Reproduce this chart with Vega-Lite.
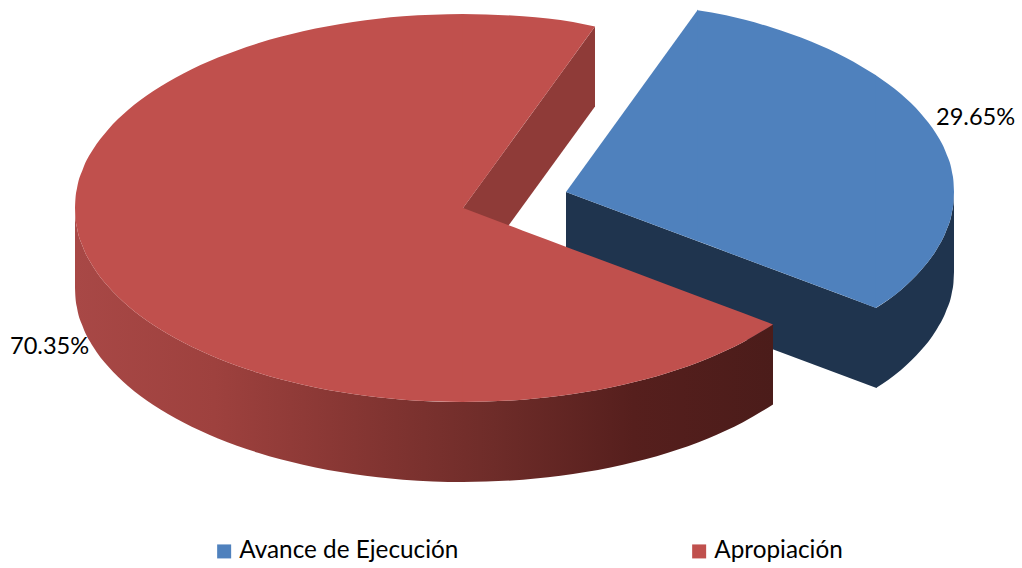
{
"$schema":"https://vega.github.io/schema/vega-lite/v6.json",
"width":1022,"height":568,"padding":0,"autosize":{"type":"none"},
"background":"white",
"config":{"view":{"stroke":null}},
"datasets":{
"blueSide":[{"part":"a","x":566,"y":192,"y2":272},{"part":"a","x":876.5,"y":308,"y2":388},{"part":"b","x":876,"y":308,"y2":388},{"part":"b","x":901,"y":289.9,"y2":369.9},{"part":"b","x":921,"y":270.3,"y2":350.3},{"part":"b","x":936,"y":250.4,"y2":330.4},{"part":"b","x":946,"y":231.2,"y2":311.2},{"part":"b","x":952,"y":211.7,"y2":291.7},{"part":"b","x":953.5,"y":201.9,"y2":281.9},{"part":"b","x":954,"y":192,"y2":272}],
"blueTop":[{"serie":"Avance de Ejecución","part":"a","x":566,"y":192,"y2":192},{"serie":"Avance de Ejecución","part":"a","x":698,"y":9.6,"y2":241.2},
{"serie":"Avance de Ejecución","part":"b","x":697.5,"y":10.3,"y2":241},{"serie":"Avance de Ejecución","part":"b","x":726,"y":15.3,"y2":251.7},{"serie":"Avance de Ejecución","part":"b","x":771,"y":27.3,"y2":268.5},{"serie":"Avance de Ejecución","part":"b","x":811,"y":41.6,"y2":283.4},{"serie":"Avance de Ejecución","part":"b","x":846,"y":57.7,"y2":296.4},{"serie":"Avance de Ejecución","part":"b","x":876,"y":75.3,"y2":308},
{"serie":"Avance de Ejecución","part":"c","x":875.5,"y":75,"y2":308},{"serie":"Avance de Ejecución","part":"c","x":901,"y":94.1,"y2":289.9},{"serie":"Avance de Ejecución","part":"c","x":921,"y":113.7,"y2":270.3},{"serie":"Avance de Ejecución","part":"c","x":936,"y":133.6,"y2":250.4},{"serie":"Avance de Ejecución","part":"c","x":946,"y":152.8,"y2":231.2},{"serie":"Avance de Ejecución","part":"c","x":952,"y":172.3,"y2":211.7},{"serie":"Avance de Ejecución","part":"c","x":953.5,"y":182.1,"y2":201.9},{"serie":"Avance de Ejecución","part":"c","x":954,"y":192,"y2":192}],
"redInner":[{"x":463,"y":208,"y2":288},{"x":595,"y":26.5,"y2":106.5}],
"redFront":[{"x":75,"y":208,"y2":288},{"x":75.5,"y":217.9,"y2":297.9},{"x":77,"y":227.7,"y2":307.7},{"x":83,"y":247.2,"y2":327.2},{"x":93,"y":266.4,"y2":346.4},{"x":108,"y":286.3,"y2":366.3},{"x":128,"y":305.9,"y2":385.9},{"x":153,"y":324.7,"y2":404.7},{"x":183,"y":342.3,"y2":422.3},{"x":218,"y":358.4,"y2":438.4},{"x":258,"y":372.7,"y2":452.7},{"x":303,"y":384.7,"y2":464.7},{"x":353,"y":394,"y2":474},{"x":403,"y":399.7,"y2":479.7},{"x":463,"y":402,"y2":482},{"x":523,"y":399.7,"y2":479.7},{"x":573,"y":394,"y2":474},{"x":623,"y":384.7,"y2":464.7},{"x":668,"y":372.7,"y2":452.7},{"x":708,"y":358.4,"y2":438.4},{"x":743,"y":342.3,"y2":422.3},{"x":773,"y":324.5,"y2":404.5}],
"redTop":[
{"serie":"Apropiación","part":"a","x":75,"y":208,"y2":208},{"serie":"Apropiación","part":"a","x":75.5,"y":198.1,"y2":217.9},{"serie":"Apropiación","part":"a","x":77,"y":188.3,"y2":227.7},{"serie":"Apropiación","part":"a","x":83,"y":168.8,"y2":247.2},{"serie":"Apropiación","part":"a","x":93,"y":149.6,"y2":266.4},{"serie":"Apropiación","part":"a","x":108,"y":129.7,"y2":286.3},{"serie":"Apropiación","part":"a","x":128,"y":110.1,"y2":305.9},{"serie":"Apropiación","part":"a","x":153,"y":91.3,"y2":324.7},{"serie":"Apropiación","part":"a","x":183,"y":73.7,"y2":342.3},{"serie":"Apropiación","part":"a","x":218,"y":57.6,"y2":358.4},{"serie":"Apropiación","part":"a","x":258,"y":43.3,"y2":372.7},{"serie":"Apropiación","part":"a","x":303,"y":31.3,"y2":384.7},{"serie":"Apropiación","part":"a","x":353,"y":22,"y2":394},{"serie":"Apropiación","part":"a","x":403,"y":16.3,"y2":399.7},{"serie":"Apropiación","part":"a","x":463,"y":14,"y2":402},
{"serie":"Apropiación","part":"b","x":462.5,"y":14,"y2":208.7},{"serie":"Apropiación","part":"b","x":523,"y":16.3,"y2":125.5},{"serie":"Apropiación","part":"b","x":573,"y":22,"y2":56.7},{"serie":"Apropiación","part":"b","x":595,"y":26.5,"y2":26.5},
{"serie":"Apropiación","part":"c","x":462.5,"y":207.8,"y2":402},{"serie":"Apropiación","part":"c","x":523,"y":230.7,"y2":399.7},{"serie":"Apropiación","part":"c","x":573,"y":249.4,"y2":394},{"serie":"Apropiación","part":"c","x":623,"y":268.1,"y2":384.7},{"serie":"Apropiación","part":"c","x":668,"y":285,"y2":372.7},{"serie":"Apropiación","part":"c","x":708,"y":299.9,"y2":358.4},{"serie":"Apropiación","part":"c","x":743,"y":313,"y2":342.3},{"serie":"Apropiación","part":"c","x":773,"y":324.5,"y2":324.5}],
"labels":[{"x":936,"y":125,"label":"29.65%"},{"x":10,"y":354,"label":"70.35%"}]
},
"encoding":{
"x":{"field":"x","type":"quantitative","axis":null,"scale":{"domain":[0,1022],"nice":false,"zero":false}},
"y":{"field":"y","type":"quantitative","axis":null,"scale":{"domain":[568,0],"nice":false,"zero":false}}
},
"layer":[
{"data":{"name":"blueSide"},"mark":{"type":"area","color":"#1F344E","interpolate":"monotone"},"encoding":{"y2":{"field":"y2"},"detail":{"field":"part"}}},
{"data":{"name":"blueTop"},"mark":{"type":"area","interpolate":"monotone"},"encoding":{"y2":{"field":"y2"},"detail":{"field":"part"},"color":{"field":"serie","type":"nominal","scale":{"domain":["Avance de Ejecución","Apropiación"],"range":["#4F81BD","#C0504D"]},"legend":{"orient":"none","legendX":212,"legendY":539,"title":null,"direction":"horizontal","columns":2,"columnPadding":228,"symbolType":"square","symbolSize":196,"symbolStrokeWidth":0,"labelFont":"Lato","labelFontSize":24.3,"labelColor":"#000000","labelOffset":3,"labelLimit":400,"gridAlign":"each"}}}},
{"data":{"name":"redInner"},"mark":{"type":"area","color":"#8F3B38"},"encoding":{"y2":{"field":"y2"}}},
{"data":{"name":"redFront"},"mark":{"type":"area","interpolate":"monotone","color":{"gradient":"linear","x1":0,"x2":1,"y1":0,"y2":0,"stops":[{"offset":0,"color":"#A84846"},{"offset":0.2,"color":"#9E413E"},{"offset":0.4,"color":"#863633"},{"offset":0.6,"color":"#6E2C29"},{"offset":0.8,"color":"#561F1D"},{"offset":1,"color":"#4B1C1A"}]}},"encoding":{"y2":{"field":"y2"}}},
{"data":{"name":"redTop"},"mark":{"type":"area","interpolate":"monotone"},"encoding":{"y2":{"field":"y2"},"detail":{"field":"part"},"color":{"field":"serie","type":"nominal"}}},
{"data":{"name":"labels"},"mark":{"type":"text","font":"Lato","fontSize":23.6,"align":"left","baseline":"alphabetic","color":"#000000"},"encoding":{"text":{"field":"label"}}}
]
}
